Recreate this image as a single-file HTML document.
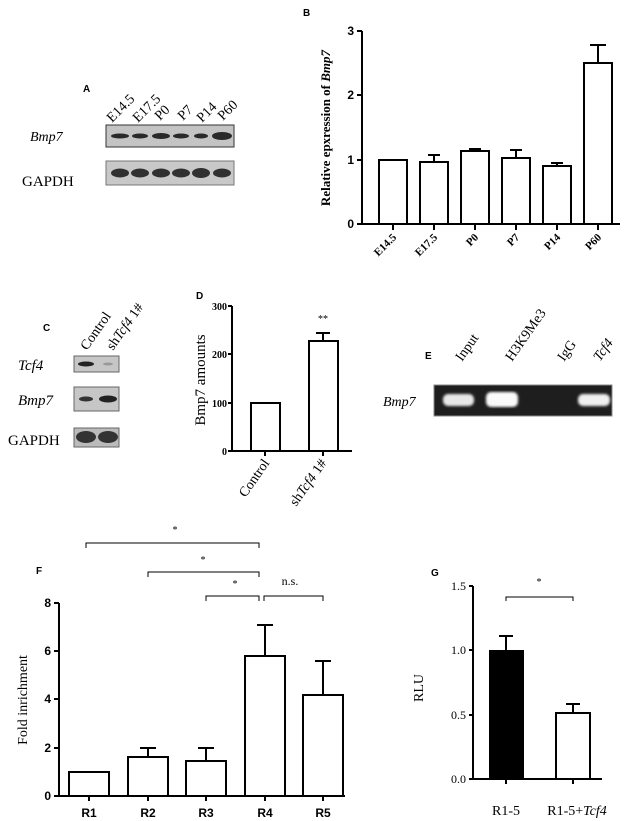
<!DOCTYPE html>
<html><head><meta charset="utf-8"><style>
html,body{margin:0;padding:0;background:#fff}
svg{display:block}
.s{font-family:"Liberation Sans",sans-serif}
.r{font-family:"Liberation Serif",serif}
</style></head><body>
<svg width="635" height="821" viewBox="0 0 635 821" xmlns="http://www.w3.org/2000/svg">
<defs><filter id="bl"><feGaussianBlur stdDeviation="1.2"/></filter></defs>
<!-- Panel A -->
<text x="83" y="92" class="s" font-size="10" font-weight="bold">A</text>
<g class="r" font-size="14">
<text transform="translate(112,123) rotate(-45)">E14.5</text>
<text transform="translate(138,123) rotate(-45)">E17.5</text>
<text transform="translate(160,121) rotate(-45)">P0</text>
<text transform="translate(183,121) rotate(-45)">P7</text>
<text transform="translate(202,123) rotate(-45)">P14</text>
<text transform="translate(223,121) rotate(-45)">P60</text>
</g>
<text x="30" y="141" class="r" font-size="14" font-style="italic">Bmp7</text>
<text x="22" y="186" class="r" font-size="15">GAPDH</text>
<rect x="106" y="125" width="128" height="22" fill="#c4c4c4" stroke="#333" stroke-width="1"/>
<g fill="#2a2a2a">
<ellipse cx="120" cy="136" rx="9" ry="2.5"/><ellipse cx="140" cy="136" rx="8" ry="2.5"/><ellipse cx="161" cy="136" rx="9" ry="3"/><ellipse cx="181" cy="136" rx="8" ry="2.5"/><ellipse cx="201" cy="136" rx="7" ry="2.5"/><ellipse cx="222" cy="136" rx="10" ry="4"/>
</g>
<rect x="106" y="161" width="128" height="24" fill="#c8c8c8" stroke="#777" stroke-width="1"/>
<g fill="#303030">
<ellipse cx="120" cy="173" rx="9" ry="4.5"/><ellipse cx="140" cy="173" rx="9" ry="4.5"/><ellipse cx="161" cy="173" rx="9" ry="4.5"/><ellipse cx="181" cy="173" rx="9" ry="4.5"/><ellipse cx="201" cy="173" rx="9" ry="5"/><ellipse cx="222" cy="173" rx="9" ry="4.5"/>
</g>
<!-- Panel B -->
<text x="303" y="16" class="s" font-size="10" font-weight="bold">B</text>
<g stroke="#000" stroke-width="2" fill="none">
<line x1="362" y1="31" x2="362" y2="225"/>
<line x1="361" y1="224" x2="620" y2="224"/>
<line x1="357" y1="31" x2="362" y2="31"/><line x1="357" y1="95" x2="362" y2="95"/><line x1="357" y1="160" x2="362" y2="160"/><line x1="357" y1="224" x2="362" y2="224"/>
<line x1="393" y1="224" x2="393" y2="230"/><line x1="434" y1="224" x2="434" y2="230"/><line x1="475" y1="224" x2="475" y2="230"/><line x1="516" y1="224" x2="516" y2="230"/><line x1="557" y1="224" x2="557" y2="230"/><line x1="598" y1="224" x2="598" y2="230"/>
<rect x="379" y="160" width="28" height="64" fill="#fff"/>
<rect x="420" y="162" width="28" height="62" fill="#fff"/><line x1="434" y1="162" x2="434" y2="155"/><line x1="428" y1="155" x2="440" y2="155"/>
<rect x="461" y="151" width="28" height="73" fill="#fff"/><line x1="475" y1="151" x2="475" y2="149"/><line x1="469" y1="149" x2="481" y2="149"/>
<rect x="502" y="158" width="28" height="66" fill="#fff"/><line x1="516" y1="158" x2="516" y2="150"/><line x1="510" y1="150" x2="522" y2="150"/>
<rect x="543" y="166" width="28" height="58" fill="#fff"/><line x1="557" y1="166" x2="557" y2="163"/><line x1="551" y1="163" x2="563" y2="163"/>
<rect x="584" y="63" width="28" height="161" fill="#fff"/><line x1="598" y1="63" x2="598" y2="45"/><line x1="590" y1="45" x2="606" y2="45"/>
</g>
<g class="s" font-size="12" font-weight="bold" text-anchor="end">
<text x="354" y="35">3</text><text x="354" y="99">2</text><text x="354" y="164">1</text><text x="354" y="228">0</text>
</g>
<g class="r" font-size="11" font-weight="bold" text-anchor="end">
<text transform="translate(397,238) rotate(-45)">E14.5</text>
<text transform="translate(438,238) rotate(-45)">E17.5</text>
<text transform="translate(479,238) rotate(-45)">P0</text>
<text transform="translate(520,238) rotate(-45)">P7</text>
<text transform="translate(561,238) rotate(-45)">P14</text>
<text transform="translate(602,238) rotate(-45)">P60</text>
</g>
<text transform="translate(330,128) rotate(-90)" class="r" font-size="13" font-weight="bold" text-anchor="middle">Relative epxression of <tspan font-style="italic">Bmp7</tspan></text>
<!-- Panel C -->
<text x="43" y="331" class="s" font-size="10" font-weight="bold">C</text>
<text transform="translate(87,351) rotate(-55)" class="r" font-size="14">Control</text>
<text transform="translate(113,351) rotate(-55)" class="r" font-size="14">sh<tspan font-style="italic">Tcf4</tspan> 1#</text>
<text x="18" y="370" class="r" font-size="15" font-style="italic">Tcf4</text>
<text x="18" y="405" class="r" font-size="15" font-style="italic">Bmp7</text>
<text x="8" y="445" class="r" font-size="15">GAPDH</text>
<rect x="74" y="356" width="45" height="16" fill="#c6c6c6" stroke="#666"/>
<ellipse cx="86" cy="364" rx="8" ry="2.5" fill="#222"/><ellipse cx="108" cy="364" rx="5" ry="1.5" fill="#999"/>
<rect x="74" y="387" width="45" height="24" fill="#c6c6c6" stroke="#666"/>
<ellipse cx="86" cy="399" rx="7" ry="2.5" fill="#333"/><ellipse cx="108" cy="399" rx="9" ry="3.5" fill="#222"/>
<rect x="74" y="428" width="45" height="19" fill="#bbb" stroke="#666"/>
<ellipse cx="86" cy="437" rx="10" ry="6" fill="#333"/><ellipse cx="108" cy="437" rx="10" ry="6" fill="#333"/>
<!-- Panel D -->
<text x="196" y="299" class="s" font-size="10" font-weight="bold">D</text>
<g stroke="#000" stroke-width="2" fill="none">
<line x1="232" y1="306" x2="232" y2="452"/>
<line x1="231" y1="451" x2="352" y2="451"/>
<line x1="228" y1="306" x2="232" y2="306"/><line x1="228" y1="354" x2="232" y2="354"/><line x1="228" y1="403" x2="232" y2="403"/><line x1="228" y1="451" x2="232" y2="451"/>
<line x1="265" y1="451" x2="265" y2="456"/><line x1="323" y1="451" x2="323" y2="456"/>
<rect x="251" y="403" width="29" height="48" fill="#fff"/>
<rect x="309" y="341" width="29" height="110" fill="#fff"/><line x1="323" y1="341" x2="323" y2="333"/><line x1="316" y1="333" x2="330" y2="333"/>
</g>
<g class="r" font-size="10" font-weight="bold" text-anchor="end">
<text x="227" y="310">300</text><text x="227" y="358">200</text><text x="227" y="407">100</text><text x="227" y="455">0</text>
</g>
<text x="323" y="322" class="r" font-size="10" text-anchor="middle">**</text>
<text transform="translate(205,380) rotate(-90)" class="r" font-size="15" text-anchor="middle">Bmp7 amounts</text>
<text transform="translate(270,463) rotate(-55)" class="r" font-size="14" text-anchor="end">Control</text>
<text transform="translate(327,463) rotate(-55)" class="r" font-size="14" text-anchor="end">sh<tspan font-style="italic">Tcf4</tspan> 1#</text>
<!-- Panel E -->
<text x="425" y="359" class="s" font-size="10" font-weight="bold">E</text>
<g class="r" font-size="14">
<text transform="translate(462,362) rotate(-55)">Input</text>
<text transform="translate(512,362) rotate(-55)">H3K9Me3</text>
<text transform="translate(564,362) rotate(-55)">IgG</text>
<text transform="translate(600,362) rotate(-55)" font-style="italic">Tcf4</text>
</g>
<text x="383" y="406" class="r" font-size="14" font-style="italic">Bmp7</text>
<rect x="434" y="385" width="178" height="31" fill="#1e1e1e" stroke="#888" stroke-width="1"/>
<g filter="url(#bl)">
<rect x="443" y="394" width="31" height="12" rx="5" fill="#e8e8e8"/>
<rect x="486" y="392" width="32" height="15" rx="5" fill="#fafafa"/>
<rect x="578" y="394" width="32" height="12" rx="5" fill="#f0f0f0"/>
</g>
<!-- Panel F -->
<text x="36" y="574" class="s" font-size="10" font-weight="bold">F</text>
<g stroke="#000" stroke-width="1" fill="none">
<polyline points="86,548 86,543 259,543 259,548"/>
<polyline points="148,577 148,572 259,572 259,577"/>
<polyline points="206,601 206,596 259,596 259,601"/>
<polyline points="264,601 264,596 323,596 323,601"/>
</g>
<g class="r" font-size="10" text-anchor="middle">
<text x="175" y="533">*</text><text x="203" y="563">*</text><text x="235" y="587">*</text>
</g>
<text x="290" y="585" class="r" font-size="12" text-anchor="middle">n.s.</text>
<g stroke="#000" stroke-width="2" fill="none">
<line x1="59" y1="603" x2="59" y2="797"/>
<line x1="58" y1="796" x2="345" y2="796"/>
<line x1="54" y1="603" x2="59" y2="603"/><line x1="54" y1="651" x2="59" y2="651"/><line x1="54" y1="699" x2="59" y2="699"/><line x1="54" y1="748" x2="59" y2="748"/><line x1="54" y1="796" x2="59" y2="796"/>
<line x1="89" y1="796" x2="89" y2="801"/><line x1="148" y1="796" x2="148" y2="801"/><line x1="206" y1="796" x2="206" y2="801"/><line x1="265" y1="796" x2="265" y2="801"/><line x1="323" y1="796" x2="323" y2="801"/>
<rect x="69" y="772" width="40" height="24" fill="#fff"/>
<rect x="128" y="757" width="40" height="39" fill="#fff"/><line x1="148" y1="757" x2="148" y2="748"/><line x1="140" y1="748" x2="156" y2="748"/>
<rect x="186" y="761" width="40" height="35" fill="#fff"/><line x1="206" y1="761" x2="206" y2="748"/><line x1="198" y1="748" x2="214" y2="748"/>
<rect x="245" y="656" width="40" height="140" fill="#fff"/><line x1="265" y1="656" x2="265" y2="625"/><line x1="257" y1="625" x2="273" y2="625"/>
<rect x="303" y="695" width="40" height="101" fill="#fff"/><line x1="323" y1="695" x2="323" y2="661"/><line x1="315" y1="661" x2="331" y2="661"/>
</g>
<g class="s" font-size="12" font-weight="bold" text-anchor="end">
<text x="51" y="607">8</text><text x="51" y="655">6</text><text x="51" y="703">4</text><text x="51" y="752">2</text><text x="51" y="800">0</text>
</g>
<g class="s" font-size="12" font-weight="bold" text-anchor="middle">
<text x="89" y="817">R1</text><text x="148" y="817">R2</text><text x="206" y="817">R3</text><text x="265" y="817">R4</text><text x="323" y="817">R5</text>
</g>
<text transform="translate(27,700) rotate(-90)" class="r" font-size="14" text-anchor="middle">Fold inrichment</text>
<!-- Panel G -->
<text x="431" y="576" class="s" font-size="10" font-weight="bold">G</text>
<polyline points="506,601 506,597 573,597 573,601" stroke="#000" stroke-width="1" fill="none"/>
<text x="539" y="585" class="r" font-size="10" text-anchor="middle">*</text>
<g stroke="#000" stroke-width="2" fill="none">
<line x1="473" y1="586" x2="473" y2="780"/>
<line x1="472" y1="779" x2="602" y2="779"/>
<line x1="469" y1="586" x2="473" y2="586"/><line x1="469" y1="650" x2="473" y2="650"/><line x1="469" y1="715" x2="473" y2="715"/><line x1="469" y1="779" x2="473" y2="779"/>
<line x1="506" y1="779" x2="506" y2="784"/><line x1="573" y1="779" x2="573" y2="784"/>
<line x1="506" y1="650" x2="506" y2="636"/><line x1="499" y1="636" x2="513" y2="636"/>
<rect x="556" y="713" width="34" height="66" fill="#fff"/><line x1="573" y1="713" x2="573" y2="704"/><line x1="566" y1="704" x2="580" y2="704"/>
</g>
<rect x="489" y="650" width="35" height="129" fill="#000"/>
<g class="r" font-size="12" text-anchor="end">
<text x="466" y="590">1.5</text><text x="466" y="654">1.0</text><text x="466" y="719">0.5</text><text x="466" y="783">0.0</text>
</g>
<text x="506" y="815" class="r" font-size="14" text-anchor="middle">R1-5</text>
<text x="577" y="815" class="r" font-size="14" text-anchor="middle">R1-5+<tspan font-style="italic">Tcf4</tspan></text>
<text transform="translate(423,688) rotate(-90)" class="r" font-size="14" text-anchor="middle">RLU</text>
</svg>
</body></html>
